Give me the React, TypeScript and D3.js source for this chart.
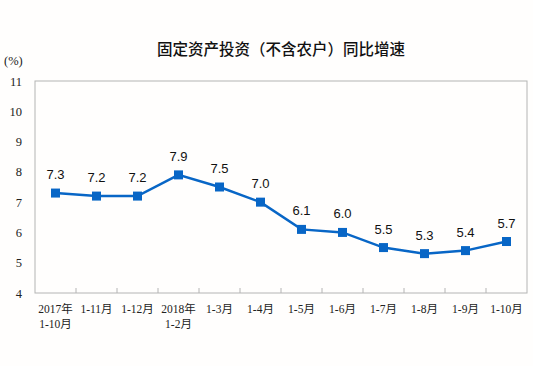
import * as d3 from 'd3';
import React, { useRef, useEffect } from 'react';

const categories = [
  ['2017年', '1-10月'], ['1-11月'], ['1-12月'], ['2018年', '1-2月'], ['1-3月'], ['1-4月'],
  ['1-5月'], ['1-6月'], ['1-7月'], ['1-8月'], ['1-9月'], ['1-10月'],
];
const values = [7.3, 7.2, 7.2, 7.9, 7.5, 7.0, 6.1, 6.0, 5.5, 5.3, 5.4, 5.7];
const yTicks = [4, 5, 6, 7, 8, 9, 10, 11];

const serif = '"Liberation Serif", "Noto Sans CJK SC", serif';
const sans = '"Liberation Sans", Arial, sans-serif';

function LineChart() {
  const ref = useRef<SVGSVGElement>(null);
  const width = 533;
  const height = 366;

  useEffect(() => {
    const svg = d3.select(ref.current);
    svg.selectAll('*').remove();

    const left = 35, right = 527, top = 81, bottom = 293;
    const keys = categories.map((c, i) => String(i));
    const x = d3.scaleBand().domain(keys).range([left, right]);
    const y = d3.scaleLinear().domain([4, 11]).range([bottom, top]);

    svg.append('rect').attr('width', width).attr('height', height).attr('fill', '#fffefd');

    svg.append('text')
      .attr('x', 281).attr('y', 55)
      .attr('text-anchor', 'middle')
      .attr('font-family', '"Noto Sans CJK SC", sans-serif')
      .attr('font-size', 15.5)
      .attr('font-weight', 500)
      .attr('fill', '#111')
      .text('固定资产投资（不含农户）同比增速');

    svg.append('text')
      .attr('x', 4).attr('y', 65)
      .attr('font-family', serif).attr('font-size', 12.5).attr('fill', '#222')
      .text('(%)');

    // frame
    svg.append('rect')
      .attr('x', left).attr('y', top)
      .attr('width', right - left).attr('height', bottom - top)
      .attr('fill', 'none').attr('stroke', '#b4b4b4').attr('stroke-width', 1);

    // y tick labels
    svg.selectAll('.ylab').data(yTicks).enter().append('text')
      .attr('x', 22).attr('y', (d) => y(d) + 4.5)
      .attr('text-anchor', 'end')
      .attr('font-family', serif).attr('font-size', 12.5).attr('fill', '#222')
      .text((d) => d);

    // x ticks at category boundaries
    svg.selectAll('.xtick').data(keys.slice(1)).enter().append('line')
      .attr('x1', (d) => x(d)!).attr('x2', (d) => x(d)!)
      .attr('y1', bottom).attr('y2', bottom - 5)
      .attr('stroke', '#b4b4b4');

    // x labels
    const xl = svg.selectAll('.xlab').data(categories).enter().append('text')
      .attr('text-anchor', 'middle')
      .attr('font-family', serif).attr('font-size', 11.5).attr('fill', '#222');
    xl.each(function (d, i) {
      const t = d3.select(this);
      const cx = x(String(i))! + x.bandwidth() / 2;
      d.forEach((s, j) => {
        t.append('tspan').attr('x', cx).attr('y', 313 + j * 15).text(s);
      });
    });

    const line = d3.line<number>()
      .x((d, i) => x(String(i))! + x.bandwidth() / 2)
      .y((d) => y(d));

    svg.append('path').datum(values)
      .attr('d', line)
      .attr('fill', 'none').attr('stroke', '#0866c6').attr('stroke-width', 2.5);

    svg.selectAll('.pt').data(values).enter().append('rect')
      .attr('x', (d, i) => x(String(i))! + x.bandwidth() / 2 - 4.5)
      .attr('y', (d) => y(d) - 4.5)
      .attr('width', 9).attr('height', 9)
      .attr('fill', '#0866c6');

    svg.selectAll('.vl').data(values).enter().append('text')
      .attr('x', (d, i) => x(String(i))! + x.bandwidth() / 2)
      .attr('y', (d) => y(d) - 14)
      .attr('text-anchor', 'middle')
      .attr('font-family', sans).attr('font-size', 13).attr('fill', '#111')
      .text((d) => d.toFixed(1));
  }, []);

  return <svg ref={ref} width={width} height={height} style={{ display: 'block' }} />;
}

export default function App() {
  return (
    <div style={{ position: 'absolute', left: 0, top: 0 }}>
      <LineChart />
    </div>
  );
}
